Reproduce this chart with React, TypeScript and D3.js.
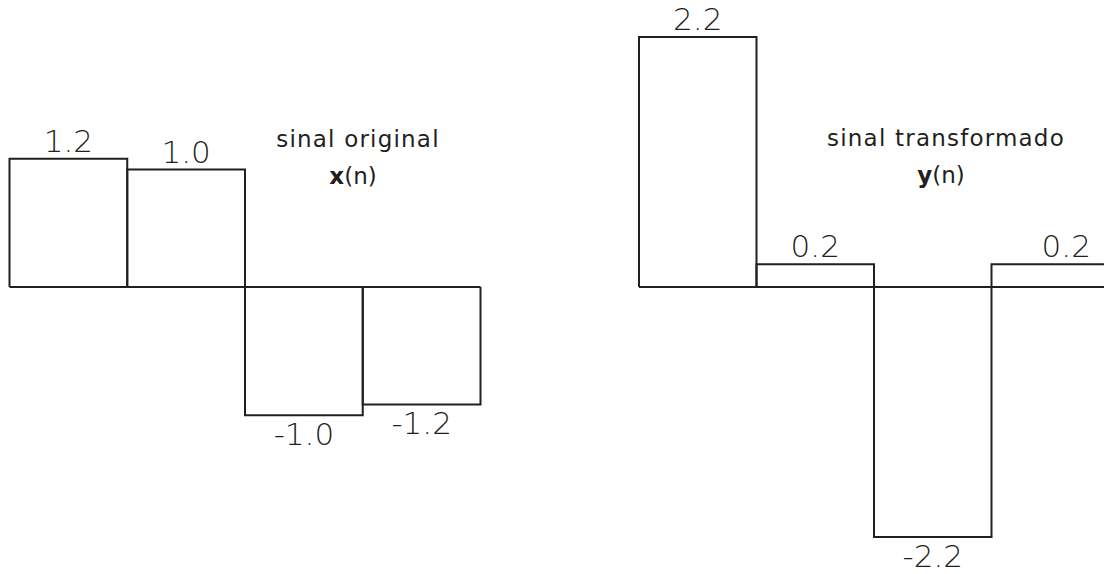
import React from "react";
import * as d3 from "d3";

// ---- data ----
const samples = [0, 1, 2, 3];
const xValues = [1.2, 1.1, -1.2, -1.1];
const xLabels = ["1.2", "1.0", "-1.0", "-1.2"];
const yValues = [2.2, 0.2, -2.2, 0.2];
const yLabels = ["2.2", "0.2", "-2.2", "0.2"];
const leftTitle = "sinal original";
const leftSymbol = "x";
const rightTitle = "sinal transformado";
const rightSymbol = "y";

const W = 1104;
const H = 574;
const FONT = "'DejaVu Sans', 'Noto Sans', sans-serif";
const STROKE = "#231f20";

type PanelProps = {
  values: number[];
  labels: string[];
  x0: number;
  x1: number;
  baseY: number;
  pxPerUnit: number;
  lineEnd: number;
  title: string;
  symbol: string;
  titleX: number;
  titleY: number;
  clipRight: boolean;
};

function Panel(p: PanelProps) {
  const x = d3.scaleBand<number>().domain(samples).range([p.x0, p.x1]).paddingInner(0).paddingOuter(0);
  const maxAbs = d3.max(p.values, (v) => Math.abs(v)) as number;
  const y = d3
    .scaleLinear()
    .domain([-maxAbs, maxAbs])
    .range([p.baseY + maxAbs * p.pxPerUnit, p.baseY - maxAbs * p.pxPerUnit]);
  const bw = x.bandwidth();
  const gap = 7;
  const cap = 23;
  return (
    <g>
      {samples.map((s, i) => {
        const v = p.values[i];
        const top = Math.min(y(v), y(0));
        const h = Math.abs(y(v) - y(0));
        const xl = x(s) as number;
        const isLast = i === samples.length - 1;
        const pathD =
          p.clipRight && isLast
            ? `M${xl},${y(0)}V${y(v)}H${W + 20}`
            : `M${xl},${y(0)}V${y(v)}H${xl + bw}V${y(0)}`;
        return (
          <g key={i}>
            <path d={pathD} fill="none" stroke={STROKE} strokeWidth={2} />
            <text
              x={xl + bw / 2 + (p.clipRight && isLast ? 16 : 0)}
              y={v >= 0 ? top - gap : top + h + gap + cap}
              textAnchor="middle"
              fontFamily={FONT}
              fontWeight={300}
              fontSize={31}
              fill={STROKE}
            >
              {p.labels[i]}
            </text>
          </g>
        );
      })}
      <line x1={p.x0} x2={p.lineEnd} y1={y(0)} y2={y(0)} stroke={STROKE} strokeWidth={2} />
      <text
        x={p.titleX}
        y={p.titleY}
        textAnchor="middle"
        fontFamily={FONT}
        fontWeight={400}
        fontSize={23}
        letterSpacing={1.2}
        fill={STROKE}
      >
        {p.title}
      </text>
      <text x={p.titleX - 5} y={p.titleY + 37} textAnchor="middle" fontFamily={FONT} fontSize={23} fill={STROKE}>
        <tspan fontWeight={700}>{p.symbol}</tspan>
        <tspan fontWeight={400}>(n)</tspan>
      </text>
    </g>
  );
}

export default function App() {
  return (
    <svg
      width={W}
      height={H}
      viewBox={`0 0 ${W} ${H}`}
      style={{ position: "absolute", left: 0, top: 0, background: "#fff" }}
    >
      <rect x={0} y={0} width={W} height={H} fill="#fff" />
      <Panel
        values={xValues}
        labels={xLabels}
        x0={9.5}
        x1={480.5}
        baseY={287}
        pxPerUnit={106.8}
        lineEnd={480.5}
        title={leftTitle}
        symbol={leftSymbol}
        titleX={358}
        titleY={147}
        clipRight={false}
      />
      <Panel
        values={yValues}
        labels={yLabels}
        x0={639}
        x1={1109}
        baseY={287}
        pxPerUnit={113.6}
        lineEnd={W + 20}
        title={rightTitle}
        symbol={rightSymbol}
        titleX={946}
        titleY={146}
        clipRight={true}
      />
    </svg>
  );
}
